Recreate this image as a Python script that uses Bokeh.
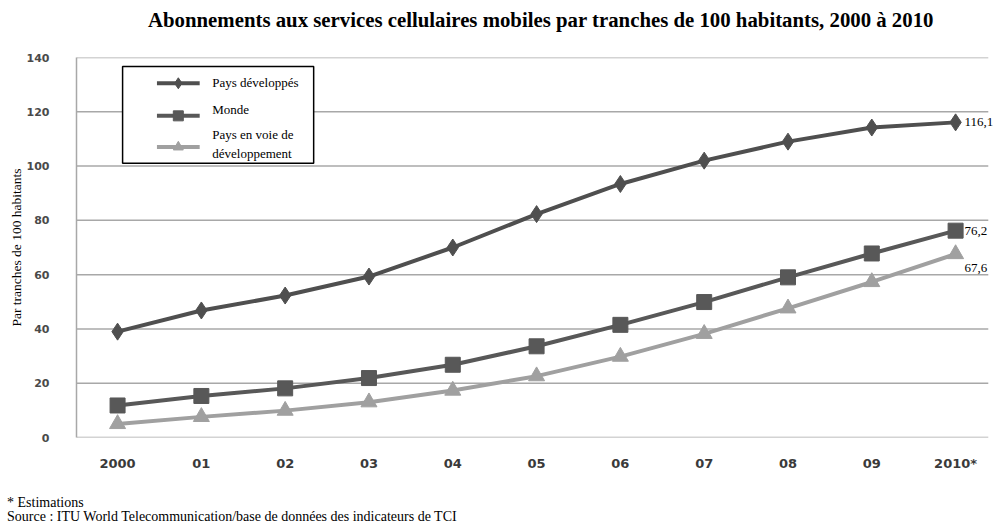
from bokeh.plotting import figure
from bokeh.layouts import column
from bokeh.models import FixedTicker, Range1d, ColumnDataSource, Div
from bokeh.core.properties import value
from bokeh.embed import file_html
from bokeh.resources import INLINE

# Mobile-cellular subscriptions per 100 inhabitants, 2000-2010
years = [2000, 2001, 2002, 2003, 2004, 2005, 2006, 2007, 2008, 2009, 2010]
year_labels = ["2000", "01", "02", "03", "04", "05", "06", "07", "08", "09", "2010*"]
developed = [39.0, 46.8, 52.3, 59.3, 70.0, 82.3, 93.4, 102.0, 109.0, 114.2, 116.1]
world = [11.8, 15.3, 18.1, 21.9, 26.8, 33.6, 41.5, 49.9, 59.0, 67.8, 76.2]
developing = [5.0, 7.6, 9.9, 13.0, 17.3, 22.6, 29.8, 38.2, 47.6, 57.3, 67.6]
y_ticks = [0, 20, 40, 60, 80, 100, 120, 140]

series_names = ["Pays développés", "Monde", "Pays en voie de\ndéveloppement"]
title_text = ("Abonnements aux services cellulaires mobiles par tranches "
              "de 100 habitants, 2000 à 2010")

DARK = "#4f4f4f"
MID = "#585858"
LIGHT = "#a0a0a0"
GRID = "#a8a8a8"
SERIF = "Liberation Serif"

X_LO, X_HI = 1999.51, 2010.50   # plot frame extent
GRID_HI = 2010.39               # gridlines stop short of the value labels

# heading above the chart
heading = Div(
    text=f'<div style="margin-left:148px; white-space:nowrap">{title_text}</div>',
    width=997, height=40, margin=(0, 0, 0, 0),
    styles={"font-family": SERIF, "font-size": "20.8px", "font-weight": "bold",
            "line-height": "22px", "padding-top": "9px", "color": "black"},
)

p = figure(width=997, height=448, output_backend="svg", toolbar_location=None,
           x_range=Range1d(X_LO, X_HI), y_range=Range1d(0, 140),
           min_border_left=76, min_border_right=0, min_border_top=17,
           min_border_bottom=51)
p.outline_line_color = None
p.background_fill_color = "white"

# horizontal gridlines (drawn as segments so they end before the labels)
p.xgrid.grid_line_color = None
p.ygrid.grid_line_color = None
p.segment(x0=[X_LO] * len(y_ticks), x1=[GRID_HI] * len(y_ticks),
          y0=y_ticks, y1=y_ticks, line_color=GRID, line_width=1.5)

# y axis
p.yaxis.ticker = FixedTicker(ticks=y_ticks)
p.yaxis.axis_line_color = GRID
p.yaxis.axis_line_width = 1.5
p.yaxis.major_tick_line_color = None
p.yaxis.minor_tick_line_color = None
p.yaxis.major_label_text_font = "DejaVu Sans"
p.yaxis.major_label_text_font_style = "bold"
p.yaxis.major_label_text_font_size = "11px"
p.yaxis.major_label_text_color = "#4a4a4a"
p.yaxis.major_label_standoff = 21
p.yaxis.axis_label = "Par tranches de 100 habitants"
p.yaxis.axis_label_text_font = SERIF
p.yaxis.axis_label_text_font_style = "normal"
p.yaxis.axis_label_text_font_size = "13.5px"
p.yaxis.axis_label_text_color = "black"
p.yaxis.axis_label_standoff = 0

# x axis
p.xaxis.ticker = FixedTicker(ticks=years)
p.xaxis.major_label_overrides = {y: l for y, l in zip(years, year_labels)}
p.xaxis.axis_line_color = None
p.xaxis.major_tick_line_color = None
p.xaxis.minor_tick_line_color = None
p.xaxis.major_label_text_font = "DejaVu Sans"
p.xaxis.major_label_text_font_style = "bold"
p.xaxis.major_label_text_font_size = "13px"
p.xaxis.major_label_text_color = "#3a3a3a"
p.xaxis.major_label_standoff = 12

# series
p.line(years, developed, line_color=DARK, line_width=4)
p.scatter(years, developed, marker="diamond", size=17, fill_color=DARK,
          line_color=DARK)
p.line(years, world, line_color=MID, line_width=4)
p.scatter(years, world, marker="square", size=15, fill_color=MID, line_color=MID)
p.line(years, developing, line_color=LIGHT, line_width=4)
p.scatter(years, developing, marker="triangle", size=16, fill_color=LIGHT,
          line_color=LIGHT)

# end-of-series value labels
end_vals = [developed[-1], world[-1], developing[-1]]
end_src = ColumnDataSource(dict(
    x=[years[-1]] * 3,
    y=end_vals,
    text=[f"{v:.1f}".replace(".", ",") for v in end_vals],
    dy=[0, 0, 14],
))
p.text(x="x", y="y", text="text", source=end_src, x_offset=9, y_offset="dy",
       text_font=value(SERIF), text_font_size="13px", text_color="black",
       text_baseline="middle", text_align="left")

# legend box
lx0, lx1, ly0, ly1 = 2000.06, 2002.34, 101.0, 136.7
p.quad(left=[lx0], right=[lx1], bottom=[ly0], top=[ly1], fill_color="white",
       line_color="black", line_width=1.5)
sx0, sx1 = 2000.47, 2000.98
sxm = (sx0 + sx1) / 2
rows = [(130.5, DARK, "diamond", 11), (118.5, MID, "square", 10),
        (107.0, LIGHT, "triangle", 10)]
for (ry, col, mk, sz) in rows:
    p.line([sx0, sx1], [ry, ry], line_color=col, line_width=4)
    p.scatter([sxm], [ry], marker=mk, size=sz, fill_color=col, line_color=col)
tx = 2001.13
p.text(x=[tx, tx, tx], y=[130.8, 121.0, 108.1], text=series_names,
       text_font=value(SERIF), text_font_size="13px", text_color="black",
       text_baseline="middle", text_align="left", text_line_height=1.3)

# footnotes under the chart
notes = Div(
    text="* Estimations<br>Source : ITU World Telecommunication/base de "
         "données des indicateurs de TCI",
    width=997, height=37, margin=(0, 0, 0, 0),
    styles={"font-family": SERIF, "font-size": "14px", "line-height": "14px",
            "padding-top": "8px", "padding-left": "7px", "color": "black"},
)

layout = column(heading, p, notes, spacing=0)
open("out.html", "w").write(file_html(layout, INLINE))
